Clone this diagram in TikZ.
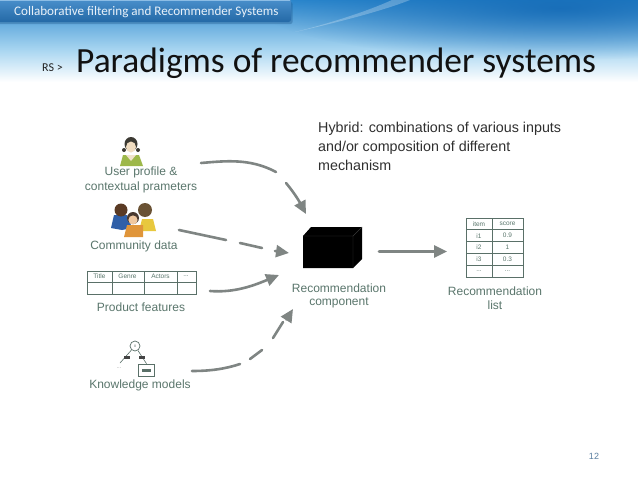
\documentclass[tikz,border=0pt]{standalone}
\usepackage{fontspec}
\setmainfont{Liberation Sans}
\newfontfamily\slidefont{Carlito}
\usetikzlibrary{arrows.meta,shapes.geometric,fadings}
\definecolor{lab}{HTML}{5A766C}
\definecolor{arrowg}{HTML}{7F8583}
\definecolor{tabl}{HTML}{5A7068}
\definecolor{bgtop}{HTML}{2C88CE}
\definecolor{bgmid}{HTML}{A9D6F1}
\definecolor{bgdeep}{HTML}{1268B4}
\definecolor{tabtop}{HTML}{4D93CF}
\definecolor{tabbot}{HTML}{2469A6}
\definecolor{tabhi}{HTML}{8CBDE5}
\definecolor{tablo}{HTML}{1B5387}
\definecolor{tabtxt}{HTML}{E8F1F9}
\definecolor{crumbc}{HTML}{222222}
\definecolor{titlec}{HTML}{111111}
\definecolor{hybc}{HTML}{303030}
\definecolor{ugreen}{HTML}{9DB84A}
\definecolor{ufront}{HTML}{F1E3CC}
\definecolor{uhair}{HTML}{3C3A33}
\definecolor{uskin}{HTML}{F0DCC0}
\definecolor{cyel}{HTML}{E8C83E}
\definecolor{cbrown}{HTML}{6A5234}
\definecolor{cblue}{HTML}{2F5FA8}
\definecolor{cdark}{HTML}{5A3A24}
\definecolor{corange}{HTML}{E0953A}
\definecolor{chair}{HTML}{4A3A30}
\definecolor{cskin}{HTML}{F0C8A0}
\definecolor{tmark}{HTML}{444444}
\definecolor{cubeedge}{HTML}{3A3A3A}
\definecolor{pagec}{HTML}{5A7FA0}
\tikzfading[name=cornerglow,inner color=transparent!15,outer color=transparent!100]
\tikzset{
  lbl/.style={font=\fontsize{12}{14}\selectfont,text=lab,inner sep=0pt,anchor=center},
  flow/.style={draw=arrowg,line width=2.6pt,line cap=round},
  flowtip/.style={flow,-{Triangle[length=13pt,width=12pt]}},
  tcell/.style={font=\fontsize{6.5}{7}\selectfont,text=lab,inner sep=0pt},
  tline/.style={draw=tabl,line width=.8pt},
}
\begin{document}
\begin{tikzpicture}[x=1pt,y=-1pt]
\useasboundingbox (0,0) rectangle (638,479);
\fill[white] (0,0) rectangle (638,479);
% banner
\shade[top color=bgtop,bottom color=bgmid] (0,0) rectangle (638,50);
\shade[top color=bgmid,bottom color=white] (0,50) rectangle (638,82);
\begin{scope}
\clip (0,0) rectangle (638,70);
\fill[bgdeep,path fading=cornerglow,fit fading=true] (560,8) ellipse (300 and 52);
\end{scope}
\fill[white,opacity=.25] (295,32) .. controls (340,22) and (385,10) .. (410,0) -- (392,0) .. controls (370,10) and (335,22) .. (295,32) -- cycle;
\fill[tablo,opacity=.35,rounded corners=2pt] (-3,2) rectangle (292.5,24);
\shade[top color=tabtop,bottom color=tabbot,rounded corners=2.5pt] (-3,-3) rectangle (291,22);
\draw[draw=tabhi,line width=.7pt] (0,.7) -- (290,.7);
\node[font=\slidefont\fontsize{13.1}{16}\selectfont,text=tabtxt,anchor=base west,inner sep=0pt] (band) at (14,16) {Collaborative filtering and Recommender Systems};
\node[font=\slidefont\fontsize{12}{14}\selectfont,text=crumbc,anchor=base west,inner sep=0pt] (crumb) at (42,71) {RS >};
\node[font=\slidefont\fontsize{35.4}{38}\selectfont,text=titlec,anchor=base west,inner sep=0pt] (title) at (76,72) {Paradigms of recommender systems};
% hybrid text
\node[font=\fontsize{14.3}{19}\selectfont,text=hybc,align=left,anchor=north west,inner sep=0pt] (hybrid) at (318,122) {Hybrid: combinations of various inputs\\and/or composition of different\\mechanism};
% user icon
\fill[ugreen] (120,166) -- (123,155) -- (139,155) -- (143,166) -- cycle;
\fill[ufront] (126,155) -- (131,161) -- (136,155) -- cycle;
\fill[uhair] (124,150) circle (2) (138,150) circle (2);
\fill[uhair] (131,144) ellipse (6.5 and 7);
\fill[uskin] (131,147) ellipse (5 and 5.5);
% community icon
\fill[cyel] (139,231) -- (142,219) -- (153,219) -- (156,231) -- cycle;
\fill[cbrown] (145,210) circle (7);
\fill[cblue] (111,228) -- (114,215) -- (127,215) -- (132,228) -- (122,230) -- cycle;
\fill[cdark] (121,210) circle (6.5);
\fill[corange] (124,237) -- (127,225) -- (143,225) -- (143,237) -- cycle;
\fill[chair] (133,218) circle (6);
\fill[cskin] (133,220) circle (4.6);
% labels
\node[lbl] (user) at (141,172) {User profile \&};
\node[lbl] (ctx) at (141,187.5) {contextual prameters};
\node[lbl] (comm) at (134,246) {Community data};
\node[lbl] (prod) at (141,307) {Product features};
\node[lbl] (know) at (140,385) {Knowledge models};
\node[lbl] (rec) at (339,288) {Recommendation};
\node[lbl] (comp) at (339,303) {component};
\node[lbl] (list1) at (495,291) {Recommendation};
\node[lbl] (list2) at (495,305) {list};
% product table
\draw[tline] (87,271) rectangle (196,294);
\draw[tline] (87,282) -- (196,282) (112,271) -- (112,294) (144,271) -- (144,294) (177,271) -- (177,294);
\node[tcell] (pt) at (99.5,276.5) {Title};
\node[tcell] (pg) at (127.5,276.5) {Genre};
\node[tcell] (pa) at (160.5,276.5) {Actors};
\node[tcell] (pd) at (186,276.5) {...};
% knowledge tree
\node[draw=tabl,line width=.7pt,circle,minimum size=10pt,inner sep=0pt,font=\fontsize{4}{4}\selectfont,text=tabl] (root) at (135,346) {ii};
\node[draw=tabl,line width=.7pt,minimum width=16pt,minimum height=12pt,inner sep=0pt] (leaf) at (146.5,370) {};
\fill[tabl] (142,368.5) rectangle (151,371.5);
\coordinate (kl) at (120,363);
\draw[tabl,line width=.6pt] (root) -- (kl);
\draw[tabl,line width=.6pt] (root) -- (leaf.north);
\fill[tmark] (124,356) rectangle (130,359);
\fill[tmark] (139,356) rectangle (145,359);
\node[font=\fontsize{6}{6}\selectfont,text=gray!70,inner sep=0pt] (kd) at (119,368) {...};
% cube
\fill[black] (303,236) -- (311,227) -- (362,227) -- (362,259) -- (353,268) -- (303,268) -- cycle;
\draw[cubeedge,line width=.4pt] (303,236) -- (353,236) -- (362,227) (353,236) -- (353,268);
% result table
\draw[tline] (466,218) rectangle (523,277);
\draw[tline] (492,218) -- (492,277) (466,229.8) -- (523,229.8) (466,241.6) -- (523,241.6) (466,253.4) -- (523,253.4) (466,265.2) -- (523,265.2);
\node[tcell] (h1) at (479,224) {item};
\node[tcell] (h2) at (507.5,224) {score};
\node[tcell] (a1) at (479,235.7) {i1};
\node[tcell] (b1) at (507.5,235.7) {0.9};
\node[tcell] (a2) at (479,247.5) {i2};
\node[tcell] (b2) at (507.5,247.5) {1};
\node[tcell] (a3) at (479,259.3) {i3};
\node[tcell] (b3) at (507.5,259.3) {0.3};
\node[tcell] (a4) at (479,271) {...};
\node[tcell] (b4) at (507.5,271) {...};
% arrow coordinates
\coordinate (u0) at (201,163); \coordinate (u1) at (276,172);
\coordinate (u2) at (286,183); \coordinate (u3) at (306,214);
\coordinate (c0) at (179,230); \coordinate (c1) at (226,240);
\coordinate (c2) at (240,243); \coordinate (c3) at (262,248);
\coordinate (c4) at (275,251); \coordinate (c5) at (289,253);
\coordinate (p0) at (210,291); \coordinate (p1) at (279,275);
\coordinate (k0) at (192,371); \coordinate (k1) at (240,364);
\coordinate (k2) at (250,359); \coordinate (k3) at (262,350);
\coordinate (k4) at (273,338); \coordinate (k5) at (283,322);
\coordinate (k6) at (288,317); \coordinate (k7) at (293,309);
\coordinate (r0) at (379,251.5); \coordinate (r1) at (447,251.5);
% arrows
\draw[flow] (u0) .. controls (225,161) and (250,158) .. (u1);
\draw[flowtip] (u2) .. controls (292,190) and (298,199) .. (u3);
\draw[flow] (c0) -- (c1);
\draw[flow] (c2) -- (c3);
\draw[flowtip] (c4) -- (c5);
\draw[flowtip] (p0) .. controls (235,293) and (255,285) .. (p1);
\draw[flow] (k0) .. controls (210,371) and (225,369) .. (k1);
\draw[flow] (k2) -- (k3);
\draw[flow] (k4) -- (k5);
\draw[flowtip] (k6) -- (k7);
\draw[flowtip] (r0) -- (r1);
% page number
\node[font=\fontsize{9}{10}\selectfont,text=pagec,inner sep=0pt] (page) at (594,456) {12};
\end{tikzpicture}
\end{document}
